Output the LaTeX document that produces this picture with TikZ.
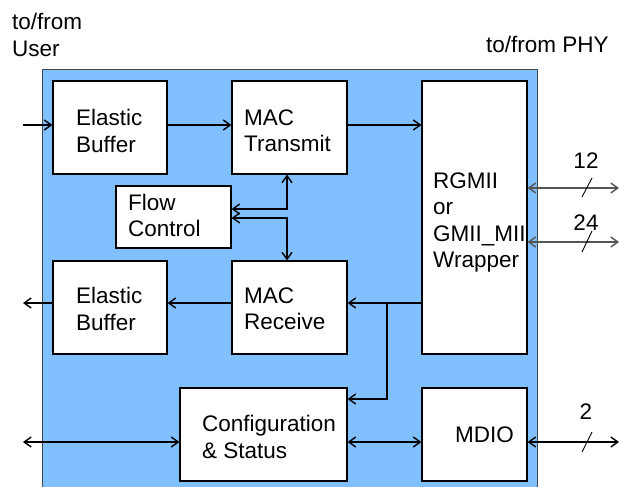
\documentclass[tikz,border=0pt]{standalone}
\usepackage{fontspec}
\setmainfont{Liberation Sans}
\usetikzlibrary{arrows.meta}
\definecolor{panelblue}{RGB}{128,192,255}
\definecolor{paneledge}{RGB}{70,70,70}
\definecolor{busgray}{RGB}{85,85,85}
\begin{document}
\begin{tikzpicture}[x=1pt,y=-1pt,
  font=\fontsize{22.5}{26.5}\selectfont,
  >={Straight Barb[length=7pt,width=10pt,line width=1.4pt]},
  block/.style={draw=black, line width=1.1pt, fill=white, inner sep=0pt},
  txt/.style={anchor=west, align=left, inner sep=0pt},
  num/.style={anchor=base, inner sep=0pt},
  wire/.style={line width=1.1pt, black},
  bus/.style={line width=1.1pt, busgray},
  slash/.style={line width=0.9pt, black}
]
\useasboundingbox (0,0) rectangle (619,487);

% core panel
\fill[panelblue] (42,70) rectangle (537,492);
\draw[paneledge, line width=1pt] (42,492) -- (42,70) -- (537,70) -- (537,492);

% outside labels
\node[txt] (userlbl) at (12,34.8) {to/from\\User};
\node[anchor=base west, inner sep=0pt] (phylbl) at (486,53) {to/from PHY};

% blocks
\node[block, minimum width=114, minimum height=93] (eb1) at (110,127.5) {};
\node[block, minimum width=115, minimum height=93] (mtx) at (289.5,127.5) {};
\node[block, minimum width=105, minimum height=273] (rg) at (474.5,217.5) {};
\node[block, minimum width=115, minimum height=62] (fc) at (173.5,217) {};
\node[block, minimum width=114, minimum height=93] (eb2) at (110,307.5) {};
\node[block, minimum width=115, minimum height=93] (mrx) at (289.5,307.5) {};
\node[block, minimum width=167, minimum height=93] (cfg) at (263.5,434.5) {};
\node[block, minimum width=105, minimum height=93] (mdio) at (474.5,434.5) {};

% block texts
\node[txt] (eb1t) at (76,131) {Elastic\\Buffer};
\node[txt] (mtxt) at (244,131) {MAC\\Transmit};
\node[txt] (fct) at (128,215.5) {Flow\\Control};
\node[txt] (rgt) at (433,222.7) {RGMII\\or\\GMII\_MII\\Wrapper};
\node[txt] (eb2t) at (76,309) {Elastic\\Buffer};
\node[txt] (mrxt) at (244,309) {MAC\\Receive};
\node[txt] (cfgt) at (202,437) {Configuration\\\& Status};
\node[anchor=base west, inner sep=0pt] (mdiot) at (455,442.5) {MDIO};

% free ends of external connectors
\coordinate (uin) at (23,125);
\coordinate (uout) at (23,303);
\coordinate (ucfg) at (23,442);
\coordinate (p12) at (619,188);
\coordinate (p24) at (619,242);
\coordinate (p2) at (619,442);
\coordinate (br) at (387,303);

% transmit path
\draw[wire,->] (uin) -- (uin -| eb1.west);
\draw[wire,->] (eb1.east |- uin) -- (mtx.west |- uin);
\draw[wire,->] (mtx.east |- uin) -- (rg.west |- uin);

% flow control links
\draw[wire,<->] ([yshift=8]fc.east) -| ([xshift=-2.5]mtx.south);
\draw[wire,<->] ([yshift=-1]fc.east) -| ([xshift=-2.5]mrx.north);

% receive path
\draw[wire,->] (rg.west |- br) -- (mrx.east |- br);
\draw[wire,->] (br) |- (cfg.east |- 0,399);
\draw[wire,->] (mrx.west |- br) -- (eb2.east |- br);
\draw[wire,->] (eb2.west |- br) -- (uout);

% configuration and management
\draw[wire,<->] (ucfg) -- (cfg.west |- ucfg);
\draw[wire,<->] (cfg.east |- ucfg) -- (mdio.west |- ucfg);
\draw[wire,<->] (mdio.east |- p2) -- (p2);

% PHY buses
\draw[bus,<->] (rg.east |- p12) -- (p12);
\draw[bus,<->] (rg.east |- p24) -- (p24);

% bus width marks
\draw[slash] (582,197) -- (592,178);
\draw[slash] (582,252) -- (592,231);
\draw[slash] (582,452) -- (592,432);
\node[num] (w12) at (586,168) {12};
\node[num] (w24) at (586,230) {24};
\node[num] (w2) at (586,419) {2};
\end{tikzpicture}
\end{document}
